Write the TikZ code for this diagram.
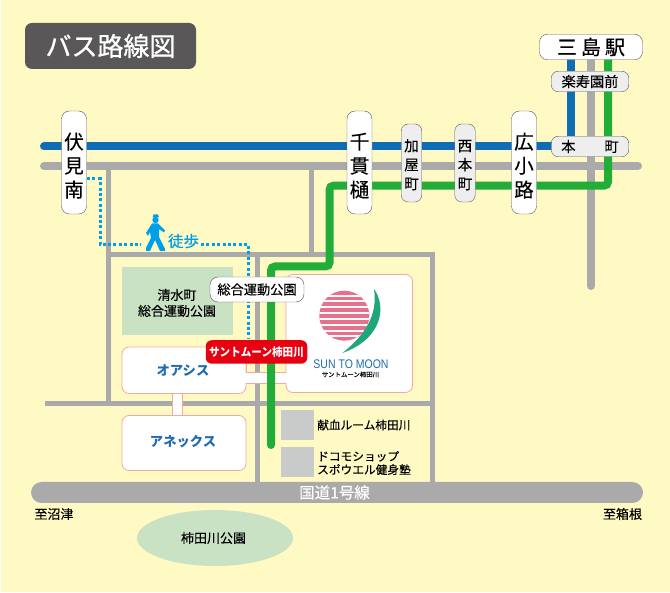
\documentclass[tikz,border=0pt]{standalone}
\usepackage{fontspec}
\usetikzlibrary{shapes.geometric}
\newfontfamily\cjk[FakeBold=0.25]{Noto Sans CJK JP}
\newfontfamily\cjkheavy[FakeBold=0.9]{Noto Sans CJK JP}
\newfontfamily\cjkplain{Noto Sans CJK JP}
\setsansfont{Liberation Sans}
\definecolor{mapback}{HTML}{FFFAC4}
\definecolor{roadgray}{HTML}{AAAAAA}
\definecolor{busblue}{HTML}{0F6DB6}
\definecolor{busgreen}{HTML}{22AC38}
\definecolor{walkcyan}{HTML}{00A0E9}
\definecolor{parkgreen}{HTML}{C9E2C4}
\definecolor{wallpink}{HTML}{F5A99A}
\definecolor{stopgray}{HTML}{EEEEEE}
\definecolor{titlegray}{HTML}{595757}
\definecolor{sunpink}{HTML}{E8708A}
\definecolor{moongreen}{HTML}{1FA67A}
\definecolor{logoblue}{HTML}{1F6DB0}
\definecolor{shopgray}{HTML}{C9CACA}
\definecolor{labelred}{HTML}{E60012}
\newcommand{\bigdrop}{\rule{0pt}{22.5pt}}
\newcommand{\smalldrop}{\rule{0pt}{15.5pt}}
\tikzset{
    road/.style={roadgray, line width=5pt},
    busline/.style={line width=8pt, rounded corners=4pt},
    walkdots/.style={walkcyan, line width=3pt, dash pattern=on 3pt off 2.4pt},
    bigstop/.style={draw=black!65, fill=white, rounded corners=8pt, minimum width=25pt, minimum height=103pt, inner sep=0pt, align=center, font=\cjk\fontsize{19.5}{24}\selectfont},
    smallstop/.style={draw=black!65, fill=stopgray, rounded corners=7pt, minimum width=20.5pt, minimum height=78pt, inner sep=0pt, align=center, font=\cjk\fontsize{14.5}{19}\selectfont},
    widestop/.style={draw=black!65, fill=stopgray, rounded corners=7pt, minimum width=77.5pt, minimum height=20.5pt, inner sep=0pt, font=\cjk\fontsize{14.2}{17}\selectfont},
    building/.style={draw=wallpink, fill=white, line width=0.8pt, rounded corners=7pt},
    buildlabel/.style={logoblue, font=\cjkplain\bfseries\fontsize{13.3}{15}\selectfont},
    maplabel/.style={inner sep=0pt, align=center, font=\cjk\fontsize{13}{16}\selectfont},
    shop/.style={fill=shopgray}
}
\begin{document}
\begin{tikzpicture}[x=1pt, y=-1pt]
    \useasboundingbox (0,0) rectangle (670,593);
    \fill[mapback] (1.3,0) rectangle (670,592);
    % Draw the title.
    \node[fill=titlegray, text=white, rounded corners=7pt, minimum width=171pt, minimum height=46pt, inner sep=0pt, font=\cjkheavy\fontsize{26}{28}\selectfont] (title) at (110.5,46) {バス路線図};
    % Draw the roads.
    \draw[roadgray, line width=8pt, line cap=round] (44,166) -- (638,166);
    \draw[roadgray, line width=8pt, line cap=round] (591,50) -- (591,286);
    \draw[road] (108,166) -- (108,404);
    \draw[road] (311,166) -- (311,255);
    \draw[road] (106,255) -- (435,255);
    \draw[road] (45,404) -- (432,404);
    \draw[road] (257,255) -- (257,482);
    \draw[road] (432.5,255) -- (432.5,482);
    \node[fill=roadgray, text=white, rounded corners=10.5pt, minimum width=612pt, minimum height=21pt, inner sep=0pt, font=\cjk\fontsize{15.5}{18}\selectfont] (route1) at (337,492.5) {\hspace*{-5pt}国道1号線};
    % Draw the parks.
    \fill[parkgreen] (122,267) rectangle (233,335);
    \node[maplabel] (shimizu) at (177,303) {清水町\\総合運動公園};
    \node[ellipse, fill=parkgreen, minimum width=156pt, minimum height=56pt, inner sep=0pt, font=\cjk\fontsize{13}{15}\selectfont] (kakitapark) at (215,538) {\hspace*{-3pt}柿田川公園};
    % Draw the walls between the buildings.
    \draw[wallpink, line width=0.8pt] (246,355) -- (246,372.5);
    \fill[white] (246,372.5) rectangle (286,383);
    \draw[wallpink, line width=0.8pt] (246,372.5) -- (286,372.5);
    \draw[wallpink, line width=0.8pt] (246,383) -- (286,383);
    \fill[white] (172.5,390) rectangle (182.5,418);
    \draw[wallpink, line width=0.8pt] (172.5,393) -- (172.5,415.5);
    \draw[wallpink, line width=0.8pt] (182.5,393) -- (182.5,415.5);
    % Draw the buildings.
    \draw[building] (122,347) rectangle (246,393.5);
    \draw[building] (122,415.5) rectangle (246,470.5);
    \draw[building] (286,274.5) rectangle (412.5,392.5);
    \fill[white] (243,373) rectangle (289,382.6);
    \node[buildlabel] (oasis) at (183,371) {オアシス};
    \node[buildlabel] (annex) at (183,442) {アネックス};
    % Draw the walking route.
    \draw[walkdots] (87,179) -- (100,179) -- (100,244.5) -- (141,244.5);
    \draw[walkdots] (201,244.5) -- (248,244.5) -- (248,338);
    \node[walkcyan, inner sep=0pt, font=\cjk\fontsize{15.5}{17}\selectfont] (walk) at (183.5,241) {徒歩};
    % Draw the walker.
    \fill[walkcyan] (155.5,220) circle (3.2);
    \fill[walkcyan] (152.5,217.5) -- (159,217.5) -- (158,214.5) -- (153.5,214.5) -- cycle;
    \fill[walkcyan] (152,223.5) -- (158,223.5) -- (165,230.5) -- (164,232.5) -- (159,229) -- (159,237) -- (165,249) -- (165,251) -- (160,251) -- (155,240) -- (150,251) -- (146,251) -- (146,248) -- (151,238) -- (150,232) -- (148,236) -- (146,233) -- cycle;
    % Draw the bus lines.
    \draw[busblue, busline, line cap=round] (44,146.5) -- (555,146.5);
    \draw[busblue, busline] (570.7,50) -- (570.7,146.5);
    \draw[busgreen, busline, line cap=round] (608,50) -- (608,185.7) -- (329.5,185.7) -- (329.5,266.5) -- (271,266.5) -- (271,445);
    % Draw the bus stops.
    \node[bigstop] (fushimi) at (74,162.5) {\bigdrop 伏\\見\\南};
    \node[bigstop] (senkanhi) at (359.5,162.5) {\bigdrop 千\\貫\\樋};
    \node[bigstop] (hirokoji) at (524,162.5) {\bigdrop 広\\小\\路};
    \node[smallstop] (kaya) at (411.5,163) {\smalldrop 加\\屋\\町};
    \node[smallstop] (nishimoto) at (465,163) {\smalldrop 西\\本\\町};
    \node[draw=black!65, fill=white, rounded corners=8pt, minimum width=103pt, minimum height=25.5pt, inner sep=0pt, font=\cjk\fontsize{20}{24}\selectfont] (mishima) at (591,47) {三\hspace{4pt}島\hspace{4pt}駅};
    \node[widestop] (rakujuen) at (590,81.5) {楽寿園前};
    \node[widestop] (honcho) at (590,146.5) {本\hspace{29pt}町};
    % Draw the park stop and the place name.
    \node[draw=black!65, fill=white, rounded corners=8pt, minimum width=94pt, minimum height=25pt, inner sep=0pt, font=\cjk\fontsize{13.2}{15}\selectfont] (parkstop) at (257,289.5) {総合運動公園};
    \node[fill=labelred, text=white, rounded corners=6pt, minimum width=101.5pt, minimum height=23.5pt, inner sep=0pt, font=\cjkplain\bfseries\fontsize{11.5}{13}\selectfont] (suntomoon) at (256.5,352) {\scalebox{0.92}[1]{サントムーン柿田川}};
    % Draw the logo.
    \begin{scope}
        \clip (344.3,315.7) circle (25);
        \fill[sunpink] (319,290) rectangle (370,342);
        \fill[white] (319,295.5) rectangle (370,297);
        \fill[white] (319,300.5) rectangle (370,302.5);
        \fill[white] (319,306) rectangle (370,308.5);
        \fill[white] (319,312) rectangle (370,314.5);
        \fill[white] (319,318) rectangle (370,320.5);
        \fill[white] (319,324) rectangle (370,326.5);
        \fill[white] (319,330) rectangle (370,332);
        \fill[white] (319,335.5) rectangle (370,337);
    \end{scope}
    \fill[moongreen] (374,289) .. controls (386,305) and (384,338) .. (342.5,353) .. controls (365,335) and (378,315) .. cycle;
    \node[logoblue, inner sep=0pt, font=\sffamily\fontsize{12.5}{14}\selectfont] (logotext) at (351,364) {\scalebox{0.84}[1]{SUN TO MOON}};
    \node[inner sep=0pt, font=\cjk\fontsize{6.4}{7}\selectfont] (logosub) at (350.5,374.5) {サントムーン柿田川};
    % Draw the shops.
    \fill[shop] (281,410) rectangle (313.5,440);
    \fill[shop] (281,447) rectangle (313.5,477);
    \node[maplabel, anchor=west, font=\cjk\fontsize{11.7}{13}\selectfont] (blood) at (317,425) {献血ルーム柿田川};
    \node[maplabel, anchor=west, align=left, font=\cjk\fontsize{11.7}{13.3}\selectfont] (docomo) at (317,463) {ドコモショップ\\スポウエル健身塾};
    % Draw the directions.
    \node[maplabel, font=\cjk\fontsize{13}{15}\selectfont] (numazu) at (54,514) {至沼津};
    \node[maplabel, font=\cjk\fontsize{13}{15}\selectfont] (hakone) at (622.5,514) {至箱根};
\end{tikzpicture}
\end{document}
